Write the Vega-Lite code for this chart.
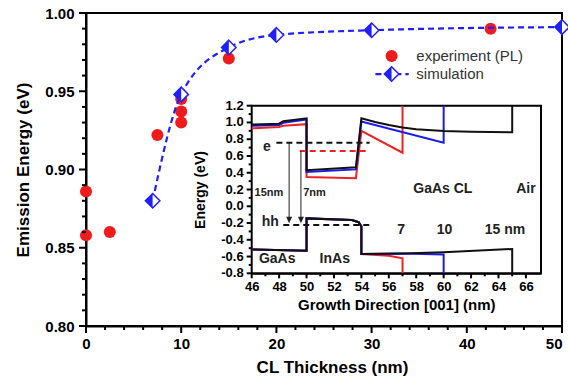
{
  "$schema": "https://vega.github.io/schema/vega-lite/v6.json",
  "width": 476,
  "height": 313,
  "autosize": {"type": "none"},
  "padding": {"left": 86, "top": 13, "right": 6, "bottom": 55},
  "background": "white",
  "config": {
    "font": "Liberation Sans",
    "view": {"stroke": "black", "strokeWidth": 2},
    "axis": {"grid": false, "ticks": false, "domainColor": "black", "domainWidth": 2, "labelColor": "black", "titleColor": "black", "labelFontWeight": "bold", "titleFontWeight": "bold", "labelFlush": false, "labelBound": false, "labelOverlap": false}
  },
  "datasets": {
    "exp": [
      {"t": 0, "e": 0.886}, {"t": 0, "e": 0.858}, {"t": 2.5, "e": 0.860}, {"t": 7.5, "e": 0.922},
      {"t": 10, "e": 0.945}, {"t": 10, "e": 0.937}, {"t": 10, "e": 0.930}, {"t": 15, "e": 0.971}, {"t": 42.5, "e": 0.990}
    ],
    "sim": [
      {"t": 7, "e": 0.880}, {"t": 10, "e": 0.948}, {"t": 15, "e": 0.978}, {"t": 20, "e": 0.986}, {"t": 30, "e": 0.989}, {"t": 50, "e": 0.991}
    ],
    "mxMajor": [{"v": 0}, {"v": 10}, {"v": 20}, {"v": 30}, {"v": 40}, {"v": 50}],
    "mxMinor": [{"v": 2}, {"v": 4}, {"v": 6}, {"v": 8}, {"v": 12}, {"v": 14}, {"v": 16}, {"v": 18}, {"v": 22}, {"v": 24}, {"v": 26}, {"v": 28}, {"v": 32}, {"v": 34}, {"v": 36}, {"v": 38}, {"v": 42}, {"v": 44}, {"v": 46}, {"v": 48}],
    "myMajor": [{"v": 0.8}, {"v": 0.85}, {"v": 0.9}, {"v": 0.95}, {"v": 1.0}],
    "myMinor": [{"v": 0.81}, {"v": 0.82}, {"v": 0.83}, {"v": 0.84}, {"v": 0.86}, {"v": 0.87}, {"v": 0.88}, {"v": 0.89}, {"v": 0.91}, {"v": 0.92}, {"v": 0.93}, {"v": 0.94}, {"v": 0.96}, {"v": 0.97}, {"v": 0.98}, {"v": 0.99}],
    "ixMajor": [{"v": 46}, {"v": 48}, {"v": 50}, {"v": 52}, {"v": 54}, {"v": 56}, {"v": 58}, {"v": 60}, {"v": 62}, {"v": 64}, {"v": 66}],
    "ixMinor": [{"v": 47}, {"v": 49}, {"v": 51}, {"v": 53}, {"v": 55}, {"v": 57}, {"v": 59}, {"v": 61}, {"v": 63}, {"v": 65}],
    "iyMajor": [{"v": -0.8, "l": "-0.8"}, {"v": -0.6, "l": "-0.6"}, {"v": -0.4, "l": "-0.4"}, {"v": -0.2, "l": "-0.2"}, {"v": 0, "l": "0.0"}, {"v": 0.2, "l": "0.2"}, {"v": 0.4, "l": "0.4"}, {"v": 0.6, "l": "0.6"}, {"v": 0.8, "l": "0.8"}, {"v": 1.0, "l": "1.0"}, {"v": 1.2, "l": "1.2"}],
    "iyMinor": [{"v": -0.7}, {"v": -0.5}, {"v": -0.3}, {"v": -0.1}, {"v": 0.1}, {"v": 0.3}, {"v": 0.5}, {"v": 0.7}, {"v": 0.9}, {"v": 1.1}],
    "band": [
      {"s": "r", "b": "c", "i": 1, "x": 46, "y": 0.93}, {"s": "r", "b": "c", "i": 2, "x": 48, "y": 0.945}, {"s": "r", "b": "c", "i": 3, "x": 48.3, "y": 0.96}, {"s": "r", "b": "c", "i": 4, "x": 50, "y": 0.98}, {"s": "r", "b": "c", "i": 5, "x": 50, "y": 0.35}, {"s": "r", "b": "c", "i": 6, "x": 53.6, "y": 0.335}, {"s": "r", "b": "c", "i": 7, "x": 54, "y": 0.90}, {"s": "r", "b": "c", "i": 8, "x": 57, "y": 0.639}, {"s": "r", "b": "c", "i": 9, "x": 57, "y": 1.2},
      {"s": "r", "b": "v", "i": 1, "x": 46, "y": -0.515}, {"s": "r", "b": "v", "i": 2, "x": 50, "y": -0.53}, {"s": "r", "b": "v", "i": 3, "x": 50, "y": -0.145}, {"s": "r", "b": "v", "i": 4, "x": 53.3, "y": -0.165}, {"s": "r", "b": "v", "i": 5, "x": 53.8, "y": -0.19}, {"s": "r", "b": "v", "i": 6, "x": 54, "y": -0.24}, {"s": "r", "b": "v", "i": 7, "x": 54, "y": -0.57}, {"s": "r", "b": "v", "i": 8, "x": 56, "y": -0.59}, {"s": "r", "b": "v", "i": 9, "x": 57, "y": -0.62}, {"s": "r", "b": "v", "i": 10, "x": 57, "y": -0.8},
      {"s": "b", "b": "c", "i": 1, "x": 46, "y": 0.96}, {"s": "b", "b": "c", "i": 2, "x": 48, "y": 0.97}, {"s": "b", "b": "c", "i": 3, "x": 48.3, "y": 0.995}, {"s": "b", "b": "c", "i": 4, "x": 50, "y": 1.035}, {"s": "b", "b": "c", "i": 5, "x": 50, "y": 0.41}, {"s": "b", "b": "c", "i": 6, "x": 53.6, "y": 0.44}, {"s": "b", "b": "c", "i": 7, "x": 54, "y": 1.01}, {"s": "b", "b": "c", "i": 8, "x": 60, "y": 0.758}, {"s": "b", "b": "c", "i": 9, "x": 60, "y": 1.2},
      {"s": "b", "b": "v", "i": 1, "x": 46, "y": -0.515}, {"s": "b", "b": "v", "i": 2, "x": 50, "y": -0.53}, {"s": "b", "b": "v", "i": 3, "x": 50, "y": -0.145}, {"s": "b", "b": "v", "i": 4, "x": 53.3, "y": -0.165}, {"s": "b", "b": "v", "i": 5, "x": 53.8, "y": -0.19}, {"s": "b", "b": "v", "i": 6, "x": 54, "y": -0.24}, {"s": "b", "b": "v", "i": 7, "x": 54, "y": -0.57}, {"s": "b", "b": "v", "i": 8, "x": 57, "y": -0.565}, {"s": "b", "b": "v", "i": 9, "x": 60, "y": -0.575}, {"s": "b", "b": "v", "i": 10, "x": 60, "y": -0.8},
      {"s": "k", "b": "c", "i": 1, "x": 46, "y": 0.975}, {"s": "k", "b": "c", "i": 2, "x": 48, "y": 0.985}, {"s": "k", "b": "c", "i": 3, "x": 48.3, "y": 1.015}, {"s": "k", "b": "c", "i": 4, "x": 50, "y": 1.05}, {"s": "k", "b": "c", "i": 5, "x": 50, "y": 0.43}, {"s": "k", "b": "c", "i": 6, "x": 53.6, "y": 0.465}, {"s": "k", "b": "c", "i": 7, "x": 54, "y": 1.05}, {"s": "k", "b": "c", "i": 8, "x": 55, "y": 1.005}, {"s": "k", "b": "c", "i": 9, "x": 56, "y": 0.97}, {"s": "k", "b": "c", "i": 10, "x": 57, "y": 0.94}, {"s": "k", "b": "c", "i": 11, "x": 58, "y": 0.92}, {"s": "k", "b": "c", "i": 12, "x": 60, "y": 0.898}, {"s": "k", "b": "c", "i": 13, "x": 62, "y": 0.89}, {"s": "k", "b": "c", "i": 14, "x": 65, "y": 0.882}, {"s": "k", "b": "c", "i": 15, "x": 65, "y": 1.2},
      {"s": "k", "b": "v", "i": 1, "x": 46, "y": -0.515}, {"s": "k", "b": "v", "i": 2, "x": 50, "y": -0.53}, {"s": "k", "b": "v", "i": 3, "x": 50, "y": -0.145}, {"s": "k", "b": "v", "i": 4, "x": 53.3, "y": -0.165}, {"s": "k", "b": "v", "i": 5, "x": 53.8, "y": -0.19}, {"s": "k", "b": "v", "i": 6, "x": 54, "y": -0.24}, {"s": "k", "b": "v", "i": 7, "x": 54, "y": -0.57}, {"s": "k", "b": "v", "i": 8, "x": 57, "y": -0.565}, {"s": "k", "b": "v", "i": 9, "x": 60, "y": -0.55}, {"s": "k", "b": "v", "i": 10, "x": 65, "y": -0.51}, {"s": "k", "b": "v", "i": 11, "x": 65, "y": -0.8}
    ],
    "levels": [
      {"x1": 47.8, "x2": 54.6, "y": 0.758, "c": "k"},
      {"x1": 49.5, "x2": 54.6, "y": 0.659, "c": "r"},
      {"x1": 48.3, "x2": 54.6, "y": -0.224, "c": "k"}
    ],
    "arrows": [
      {"x": 48.73, "y1": 0.758, "y2": -0.17, "tip": -0.204},
      {"x": 49.59, "y1": 0.659, "y2": -0.17, "tip": -0.204}
    ],
    "labels14": [
      {"x": 47.1, "y": 0.71, "text": "e"},
      {"x": 47.35, "y": -0.185, "text": "hh"},
      {"x": 47.86, "y": -0.633, "text": "GaAs"},
      {"x": 52.06, "y": -0.633, "text": "InAs"},
      {"x": 59.94, "y": 0.206, "text": "GaAs CL"},
      {"x": 66.0, "y": 0.206, "text": "Air"},
      {"x": 56.9, "y": -0.283, "text": "7"},
      {"x": 60.06, "y": -0.283, "text": "10"},
      {"x": 64.47, "y": -0.283, "text": "15 nm"}
    ],
    "labels11": [
      {"x": 47.26, "y": 0.16, "text": "15nm"},
      {"x": 50.58, "y": 0.16, "text": "7nm"}
    ]
  },
  "layer": [
    {
      "layer": [
        {
          "data": {"name": "exp"},
          "mark": {"type": "point", "shape": "circle", "filled": true, "size": 145, "color": "#ee1c1c", "opacity": 1},
          "encoding": {
            "x": {"field": "t", "type": "quantitative", "scale": {"domain": [0, 50], "nice": false, "zero": false},
              "axis": {"values": [0, 10, 20, 30, 40, 50], "labelOverlap": false,
                "labelAlign": {"condition": {"test": "datum.value >= 50", "value": "right"}, "value": "center"},
                "labelFontSize": 15, "labelPadding": 10, "title": "CL Thickness (nm)", "titleFontSize": 17, "titlePadding": 8, "titleX": 246}},
            "y": {"field": "e", "type": "quantitative", "scale": {"domain": [0.8, 1.0], "nice": false, "zero": false},
              "axis": {"values": [0.8, 0.85, 0.9, 0.95, 1.0], "format": ".2f", "labelOverlap": false,
                "labelFontSize": 15, "labelPadding": 12, "title": "Emission Energy (eV)", "titleFontSize": 17, "titlePadding": 12}}
          }
        },
        {
          "data": {"name": "mxMajor"},
          "mark": {"type": "tick", "orient": "vertical", "size": 7, "thickness": 2, "yOffset": 3.5, "color": "black", "opacity": 1, "clip": false},
          "encoding": {"x": {"field": "v", "type": "quantitative"}, "y": {"datum": 0.8, "type": "quantitative"}}
        },
        {
          "data": {"name": "mxMinor"},
          "mark": {"type": "tick", "orient": "vertical", "size": 4, "thickness": 2, "yOffset": 2, "color": "black", "opacity": 1, "clip": false},
          "encoding": {"x": {"field": "v", "type": "quantitative"}, "y": {"datum": 0.8, "type": "quantitative"}}
        },
        {
          "data": {"name": "myMajor"},
          "mark": {"type": "tick", "orient": "horizontal", "size": 7, "thickness": 2, "xOffset": -3.5, "color": "black", "opacity": 1, "clip": false},
          "encoding": {"y": {"field": "v", "type": "quantitative"}, "x": {"datum": 0, "type": "quantitative"}}
        },
        {
          "data": {"name": "myMinor"},
          "mark": {"type": "tick", "orient": "horizontal", "size": 4, "thickness": 2, "xOffset": -2, "color": "black", "opacity": 1, "clip": false},
          "encoding": {"y": {"field": "v", "type": "quantitative"}, "x": {"datum": 0, "type": "quantitative"}}
        },
        {
          "data": {"name": "sim"},
          "mark": {"type": "line", "interpolate": "monotone", "strokeDash": [6, 4], "strokeWidth": 2.2, "color": "#1f1fff"},
          "encoding": {"x": {"field": "t", "type": "quantitative"}, "y": {"field": "e", "type": "quantitative"}}
        },
        {
          "data": {"name": "sim"},
          "mark": {"type": "point", "shape": "M0,-1L1,0L0,1L-1,0Z", "size": 210, "filled": true, "fill": "white", "stroke": "#1f1fff", "strokeWidth": 1.5, "opacity": 1, "clip": false},
          "encoding": {"x": {"field": "t", "type": "quantitative"}, "y": {"field": "e", "type": "quantitative"}}
        },
        {
          "data": {"name": "sim"},
          "mark": {"type": "point", "shape": "M0,-1L0,1L-1,0Z", "size": 210, "filled": true, "color": "#1f1fff", "opacity": 1, "clip": false},
          "encoding": {"x": {"field": "t", "type": "quantitative"}, "y": {"field": "e", "type": "quantitative"}}
        },
        {
          "data": {"values": [{"t": 32.1, "e": 0.9725}]},
          "mark": {"type": "point", "shape": "circle", "filled": true, "size": 145, "color": "#ee1c1c", "opacity": 1},
          "encoding": {"x": {"field": "t", "type": "quantitative"}, "y": {"field": "e", "type": "quantitative"}}
        },
        {
          "data": {"values": [{"t": 30.4, "e": 0.961}, {"t": 33.9, "e": 0.961}]},
          "mark": {"type": "line", "strokeDash": [6, 4], "strokeWidth": 2.2, "color": "#1f1fff"},
          "encoding": {"x": {"field": "t", "type": "quantitative"}, "y": {"field": "e", "type": "quantitative"}}
        },
        {
          "data": {"values": [{"t": 32.1, "e": 0.961}]},
          "mark": {"type": "point", "shape": "M0,-1L1,0L0,1L-1,0Z", "size": 210, "filled": true, "fill": "white", "stroke": "#1f1fff", "strokeWidth": 1.5, "opacity": 1},
          "encoding": {"x": {"field": "t", "type": "quantitative"}, "y": {"field": "e", "type": "quantitative"}}
        },
        {
          "data": {"values": [{"t": 32.1, "e": 0.961}]},
          "mark": {"type": "point", "shape": "M0,-1L0,1L-1,0Z", "size": 210, "filled": true, "color": "#1f1fff", "opacity": 1},
          "encoding": {"x": {"field": "t", "type": "quantitative"}, "y": {"field": "e", "type": "quantitative"}}
        },
        {
          "data": {"values": [{"t": 34.7, "e": 0.9725, "label": "experiment (PL)"}, {"t": 34.7, "e": 0.961, "label": "simulation"}]},
          "mark": {"type": "text", "align": "left", "baseline": "middle", "fontSize": 15, "color": "#333"},
          "encoding": {"x": {"field": "t", "type": "quantitative"}, "y": {"field": "e", "type": "quantitative"}, "text": {"field": "label"}}
        }
      ]
    },
    {
      "layer": [
        {
          "data": {"values": [{"x1": 46, "x2": 67.1, "y1": -0.8, "y2": 1.2}]},
          "mark": {"type": "rect", "fill": "white", "stroke": "black", "strokeWidth": 2},
          "encoding": {
            "x": {"field": "x1", "type": "quantitative", "scale": {"domain": [46, 67.1], "range": [165.7, 455], "nice": false, "zero": false},
              "axis": {"orient": "bottom", "offset": -52.7, "values": [46,48,50,52,54,56,58,60,62,64,66], "labelOverlap": false,
                "labelFontSize": 13, "labelPadding": 7, "title": "Growth Direction [001]  (nm)", "titleFontSize": 15, "titlePadding": 4}},
            "x2": {"field": "x2"},
            "y": {"field": "y1", "type": "quantitative", "scale": {"domain": [-0.8, 1.2], "range": [260.3, 92.7], "nice": false, "zero": false},
              "axis": {"orient": "left", "offset": -165.7, "labels": false, "title": "Energy (eV)", "titleFontSize": 14, "titlePadding": 44}},
            "y2": {"field": "y2"}
          }
        },
        {
          "data": {"name": "ixMajor"},
          "mark": {"type": "tick", "orient": "vertical", "size": 5, "thickness": 2, "yOffset": 2.5, "color": "black", "opacity": 1, "clip": false},
          "encoding": {"x": {"field": "v", "type": "quantitative"}, "y": {"datum": -0.8, "type": "quantitative"}}
        },
        {
          "data": {"name": "ixMinor"},
          "mark": {"type": "tick", "orient": "vertical", "size": 3, "thickness": 2, "yOffset": 1.5, "color": "black", "opacity": 1, "clip": false},
          "encoding": {"x": {"field": "v", "type": "quantitative"}, "y": {"datum": -0.8, "type": "quantitative"}}
        },
        {
          "data": {"name": "iyMajor"},
          "mark": {"type": "tick", "orient": "horizontal", "size": 5, "thickness": 2, "xOffset": -2.5, "color": "black", "opacity": 1, "clip": false},
          "encoding": {"y": {"field": "v", "type": "quantitative"}, "x": {"datum": 46, "type": "quantitative"}}
        },
        {
          "data": {"name": "iyMinor"},
          "mark": {"type": "tick", "orient": "horizontal", "size": 3, "thickness": 2, "xOffset": -1.5, "color": "black", "opacity": 1, "clip": false},
          "encoding": {"y": {"field": "v", "type": "quantitative"}, "x": {"datum": 46, "type": "quantitative"}}
        },
        {
          "data": {"name": "iyMajor"},
          "mark": {"type": "text", "align": "right", "baseline": "middle", "dx": -8, "fontSize": 13, "fontWeight": "bold", "color": "black"},
          "encoding": {"y": {"field": "v", "type": "quantitative"}, "x": {"datum": 46, "type": "quantitative"}, "text": {"field": "l"}}
        },
        {
          "data": {"name": "band"},
          "transform": [{"filter": "datum.s === 'r'"}],
          "mark": {"type": "line", "color": "#ee2222", "strokeWidth": 2},
          "encoding": {"x": {"field": "x", "type": "quantitative"}, "y": {"field": "y", "type": "quantitative"}, "detail": {"field": "b"}, "order": {"field": "i"}}
        },
        {
          "data": {"name": "band"},
          "transform": [{"filter": "datum.s === 'b'"}],
          "mark": {"type": "line", "color": "#1a1aee", "strokeWidth": 2},
          "encoding": {"x": {"field": "x", "type": "quantitative"}, "y": {"field": "y", "type": "quantitative"}, "detail": {"field": "b"}, "order": {"field": "i"}}
        },
        {
          "data": {"name": "band"},
          "transform": [{"filter": "datum.s === 'k'"}],
          "mark": {"type": "line", "color": "#111111", "strokeWidth": 2},
          "encoding": {"x": {"field": "x", "type": "quantitative"}, "y": {"field": "y", "type": "quantitative"}, "detail": {"field": "b"}, "order": {"field": "i"}}
        },
        {
          "data": {"name": "levels"},
          "mark": {"type": "rule", "strokeDash": [6, 4], "strokeWidth": 2},
          "encoding": {
            "x": {"field": "x1", "type": "quantitative"}, "x2": {"field": "x2"},
            "y": {"field": "y", "type": "quantitative"},
            "color": {"field": "c", "type": "nominal", "scale": {"domain": ["k", "r"], "range": ["#111111", "#ee2222"]}, "legend": null}
          }
        },
        {
          "data": {"name": "arrows"},
          "mark": {"type": "rule", "strokeWidth": 1, "color": "#222"},
          "encoding": {"x": {"field": "x", "type": "quantitative"}, "y": {"field": "y1", "type": "quantitative"}, "y2": {"field": "y2"}}
        },
        {
          "data": {"name": "arrows"},
          "mark": {"type": "point", "shape": "M-1,-2.2L1,-2.2L0,0Z", "size": 36, "filled": true, "color": "#222", "opacity": 1},
          "encoding": {"x": {"field": "x", "type": "quantitative"}, "y": {"field": "tip", "type": "quantitative"}}
        },
        {
          "data": {"name": "labels14"},
          "mark": {"type": "text", "fontSize": 14, "fontWeight": "bold", "color": "#222", "align": "center", "baseline": "middle"},
          "encoding": {"x": {"field": "x", "type": "quantitative"}, "y": {"field": "y", "type": "quantitative"}, "text": {"field": "text"}}
        },
        {
          "data": {"name": "labels11"},
          "mark": {"type": "text", "fontSize": 11, "fontWeight": "bold", "color": "#222", "align": "center", "baseline": "middle"},
          "encoding": {"x": {"field": "x", "type": "quantitative"}, "y": {"field": "y", "type": "quantitative"}, "text": {"field": "text"}}
        }
      ]
    }
  ],
  "resolve": {"scale": {"x": "independent", "y": "independent"}, "axis": {"x": "independent", "y": "independent"}}
}
